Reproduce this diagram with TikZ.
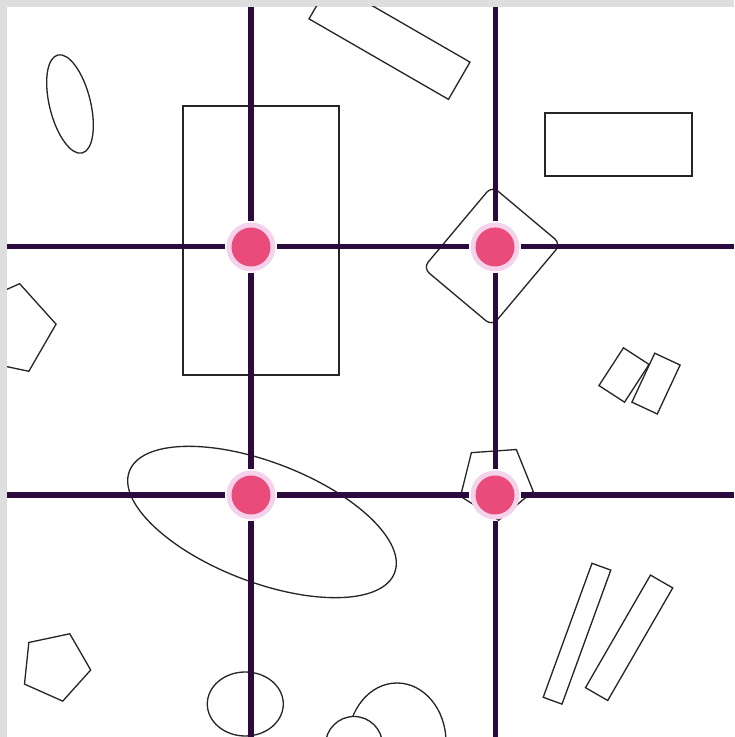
\documentclass[tikz,border=0pt]{standalone}
\usepackage{tikz}
\usetikzlibrary{positioning}
\definecolor{gridpurple}{HTML}{2C0A3E}
\definecolor{dotpink}{HTML}{E94B7B}
\definecolor{halopink}{HTML}{F5D2EC}
\definecolor{shapegray}{HTML}{262626}
\definecolor{framegray}{HTML}{DEDEDE}

\begin{document}
\begin{tikzpicture}[
    x=0.02cm, y=0.02cm,
    outline/.style={draw=shapegray, line width=0.75pt},
    gridline/.style={draw=gridpurple, line width=2.85pt},
    crossdot/.style={circle, fill=halopink, minimum size=9.8mm, inner sep=0pt,
                     outer sep=0.3mm,
                     path picture={\fill[dotpink] (path picture bounding box.center) circle (3.9mm);}}
]
\useasboundingbox (0,0) rectangle (734,737);
\fill[framegray] (0,0) rectangle (734,737);
\fill[white] (7,0) rectangle (734,730);

% loose shapes
\begin{scope}
\clip (7,0) rectangle (734,730);
\draw[outline] (183,362) rectangle (339,631);
\draw[outline] (545,561) rectangle (692,624);
\draw[outline, shift={(389.5,696.5)}, rotate=-30] (-80.5,-21.5) rectangle (80.5,21.5);
\draw[outline, rounded corners=4.5pt, shift={(492,481)}, rotate=-40] (-45,-53.5) rectangle (45,53.5);
\draw[outline, shift={(624,362)}, rotate=-33] (-15.25,-22.5) rectangle (15.25,22.5);
\draw[outline, shift={(656,353.4)}, rotate=-25] (-14,-27) rectangle (14,27);
\draw[outline, shift={(577,103.3)}, rotate=-20] (-10,-71.3) rectangle (10,71.3);
\draw[outline, shift={(629.1,99.2)}, rotate=-30] (-12.85,-65) rectangle (12.85,65);

\draw[outline, shift={(70,633)}, rotate=14] (0,0) ellipse [x radius=20.5, y radius=50.5];
\draw[outline, shift={(262,215)}, rotate=-21] (0,0) ellipse [x radius=142, y radius=60];
\draw[outline] (245.3,33) ellipse [x radius=38, y radius=32];
\draw[outline] (397,-5) ellipse [x radius=49, y radius=59];
\draw[outline, fill=white] (354,-8) circle [radius=28.5];

\foreach \cx/\cy/\r/\turn in {10/408/46.3/-12, 55.3/70.7/35.6/-24, 496/255/38.3/-32}
  \draw[outline, shift={(\cx,\cy)}, rotate=\turn]
    (90:\r) \foreach \k in {1,...,4} {-- (90+72*\k:\r)} -- cycle;
\end{scope}

% crossings
\node[crossdot] (ul) at (251,490) {};
\node[crossdot] (ur) at (495,490) {};
\node[crossdot] (ll) at (251,242) {};
\node[crossdot] (lr) at (495,242) {};

\coordinate (topl) at (251,730);
\coordinate (topr) at (495,730);
\coordinate (botl) at (251,0);
\coordinate (botr) at (495,0);
\coordinate (leftu) at (7,490);
\coordinate (leftd) at (7,242);
\coordinate (rightu) at (734,490);
\coordinate (rightd) at (734,242);

\draw[gridline] (topl) -- (ul);
\draw[gridline] (ul) -- (ll);
\draw[gridline] (ll) -- (botl);
\draw[gridline] (topr) -- (ur);
\draw[gridline] (ur) -- (lr);
\draw[gridline] (lr) -- (botr);
\draw[gridline] (leftu) -- (ul);
\draw[gridline] (ul) -- (ur);
\draw[gridline] (ur) -- (rightu);
\draw[gridline] (leftd) -- (ll);
\draw[gridline] (ll) -- (lr);
\draw[gridline] (lr) -- (rightd);
\end{tikzpicture}
\end{document}
